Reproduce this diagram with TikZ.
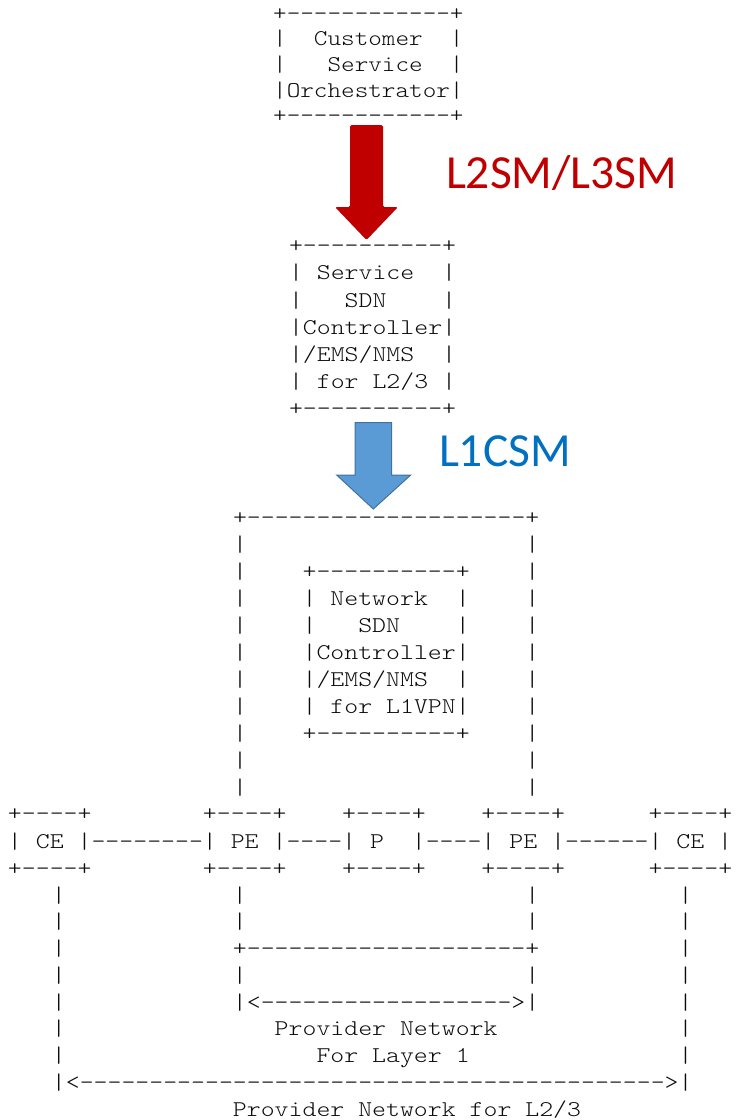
\documentclass[tikz,border=0pt]{standalone}
\usepackage{fontspec}
\newfontfamily\ascT{lmmonolt10-regular.otf}[FakeStretch=1.151,Ligatures=TeXOff]
\newfontfamily\ascN{lmmonolt10-regular.otf}[FakeStretch=1.179,Ligatures=TeXOff]
\newfontfamily\lblfont{Carlito}
\newcommand\gp[1]{\setbox0\hbox{x}\hspace*{#1\wd0}}
\definecolor{arrred}{HTML}{C00000}
\definecolor{arrblue}{HTML}{5B9BD5}
\definecolor{arrblueedge}{HTML}{41719C}
\definecolor{lblblue}{HTML}{0070C0}
\tikzset{
  ascii/.style={inner sep=0pt, outer sep=0pt, anchor=base west, text=black!95},
  asciiT/.style={ascii, font=\ascT\fontsize{22.5}{27}\selectfont},
  asciiN/.style={ascii, font=\ascN\fontsize{22.5}{27}\selectfont},
  bigarrow/.style={rounded corners=1.5pt},
  lbl/.style={inner sep=0pt, outer sep=0pt, anchor=base west, font=\lblfont\fontsize{47.5}{50}\selectfont}
}
\begin{document}
\begin{tikzpicture}[x=1pt,y=-1pt]
\fill[white] (0,0) rectangle (736,1120);
\useasboundingbox (0,0) rectangle (736,1120);

% Customer Service Orchestrator
\node[asciiT] (t1) at (273.2,20.0)  {+------------+};
\node[asciiT] (t2) at (273.2,45.7)  {|\gp{2}Customer\gp{2}|};
\node[asciiT] (t3) at (273.2,71.4)  {|\gp{3}Service\gp{2}|};
\node[asciiT] (t4) at (273.2,97.1)  {|Orchestrator|};
\node[asciiT] (t5) at (273.2,122.8) {+------------+};

% red arrow
\fill[arrred, bigarrow] (350,125) -- (383,125) -- (383,207) -- (398,207)
  -- (366.5,240) -- (335,207) -- (350,207) -- cycle;
\node[lbl, text=arrred] (l23) at (446,188) {L2SM/L3SM};

% Service SDN Controller
\node[asciiN] (s1) at (289,252.7) {+----------+};
\node[asciiN] (s2) at (289,279.9) {|\gp{1}Service\gp{2}|};
\node[asciiN] (s3) at (289,307.1) {|\gp{3}SDN\gp{4}|};
\node[asciiN] (s4) at (289,334.3) {|Controller|};
\node[asciiN] (s5) at (289,361.5) {|/EMS/NMS\gp{2}|};
\node[asciiN] (s6) at (289,388.7) {|\gp{1}for\gp{1}L2/3\gp{1}|};
\node[asciiN] (s7) at (289,415.9) {+----------+};

% blue arrow
\filldraw[fill=arrblue, draw=arrblueedge, line width=1pt, line join=miter]
  (355,422.7) -- (391.7,422.7) -- (391.7,475) -- (410.7,475)
  -- (373.3,509) -- (336.7,475) -- (355,475) -- cycle;
\node[lbl, text=lblblue] (l1) at (439,466.7) {L1CSM};

% Network SDN Controller block
\node[asciiN] (n0)  at (233,524) {+--------------------+};
\node[asciiN] (n1)  at (233,551) {|\gp{20}|};
\node[asciiN] (n2)  at (233,578) {|\gp{4}+----------+\gp{4}|};
\node[asciiN] (n3)  at (233,605) {|\gp{4}|\gp{1}Network\gp{2}|\gp{4}|};
\node[asciiN] (n4)  at (233,632) {|\gp{4}|\gp{3}SDN\gp{4}|\gp{4}|};
\node[asciiN] (n5)  at (233,659) {|\gp{4}|Controller|\gp{4}|};
\node[asciiN] (n6)  at (233,686) {|\gp{4}|/EMS/NMS\gp{2}|\gp{4}|};
\node[asciiN] (n7)  at (233,713) {|\gp{4}|\gp{1}for\gp{1}L1VPN|\gp{4}|};
\node[asciiN] (n8)  at (233,740) {|\gp{4}+----------+\gp{4}|};
\node[asciiN] (n9)  at (233,767) {|\gp{20}|};
\node[asciiN] (n10) at (233,794) {|\gp{20}|};

% CE / PE / P row
\node[asciiN] (r1) at (8,820) {+----+\gp{8}+----+\gp{4}+----+\gp{4}+----+\gp{6}+----+};
\node[asciiN] (r2) at (8,848) {|\gp{1}CE\gp{1}|--------|\gp{1}PE\gp{1}|----|\gp{1}P\gp{2}|----|\gp{1}PE\gp{1}|------|\gp{1}CE\gp{1}|};
\node[asciiN] (r3) at (8,875) {+----+\gp{8}+----+\gp{4}+----+\gp{4}+----+\gp{6}+----+};

% lower part
\node[asciiN] (b0) at (51.9,902.00)  {|\gp{12}|\gp{20}|\gp{10}|};
\node[asciiN] (b1) at (51.9,928.75)  {|\gp{12}|\gp{20}|\gp{10}|};
\node[asciiN] (b2) at (51.9,955.50)  {|\gp{12}+--------------------+\gp{10}|};
\node[asciiN] (b3) at (51.9,982.25)  {|\gp{12}|\gp{20}|\gp{10}|};
\node[asciiN] (b4) at (51.9,1009.00) {|\gp{12}|<------------------>|\gp{10}|};
\node[asciiN] (b5) at (51.9,1035.75) {|\gp{15}Provider\gp{1}Network\gp{13}|};
\node[asciiN] (b6) at (51.9,1062.50) {|\gp{18}For\gp{1}Layer\gp{1}1\gp{15}|};
\node[asciiN] (b7) at (51.9,1089.25) {|<------------------------------------------>|};
\node[asciiN] (b8) at (51.9,1116.00) {\gp{13}Provider\gp{1}Network\gp{1}for\gp{1}L2/3};
\end{tikzpicture}
\end{document}
